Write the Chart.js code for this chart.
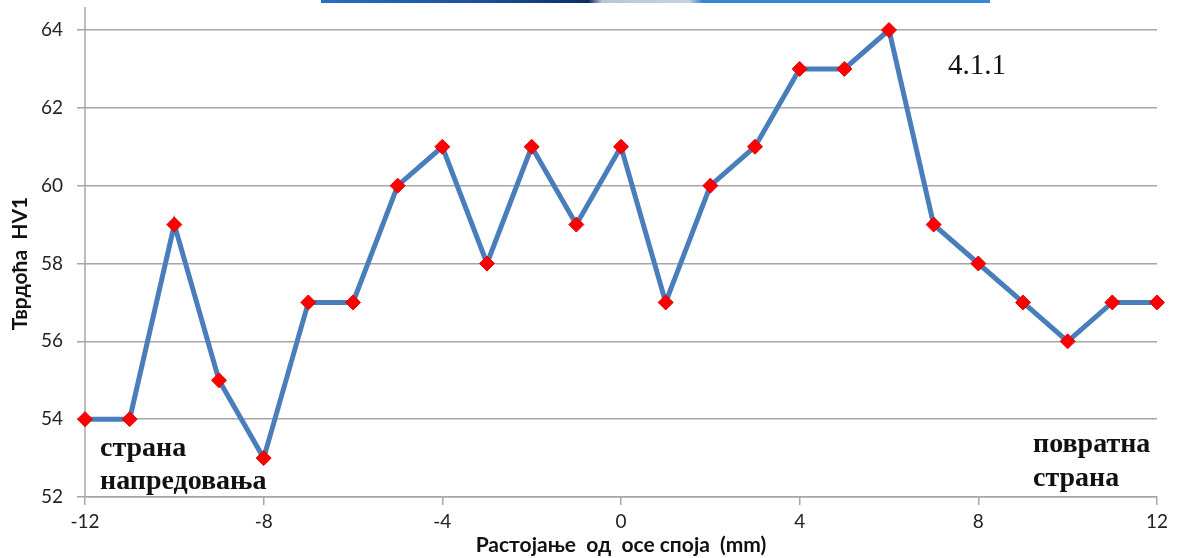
<!DOCTYPE html>
<html><head><meta charset="utf-8">
<script src="https://cdn.jsdelivr.net/npm/chart.js@4.4.1/dist/chart.umd.min.js"></script>
<style>
html,body{margin:0;padding:0;background:#fff;}
#wrap{position:relative;width:1179px;height:558px;}
#bar{position:absolute;left:321px;top:0;width:669px;height:3px;background:linear-gradient(90deg,#2a6fc0 0%,#1a4f9a 25%,#0d2d66 40%,#b8c6d6 42%,#c8d2de 55%,#3a86d6 57%,#3a86d6 100%);}
</style></head><body>
<div id="wrap"><canvas id="c" width="1179" height="558"></canvas><div id="bar"></div></div>
<script>
const xValues = [-12,-11,-10,-9,-8,-7,-6,-5,-4,-3,-2,-1,0,1,2,3,4,5,6,7,8,9,10,11,12];
const hardness = [54,54,59,55,53,57,57,60,61,58,61,59,61,57,60,61,63,63,64,59,58,57,56,57,57];
const yTicks = [52,54,56,58,60,62,64];
const xTicks = [-12,-8,-4,0,4,8,12];
const xTitle = 'Растојање  од  осе споја  (mm)';
const yTitle = 'Тврдоћа  HV1';
const notes = [
  {text:'страна', x:100, y:449, font:'bold 28px "Liberation Serif"'},
  {text:'напредовања', x:100, y:482, font:'bold 28px "Liberation Serif"'},
  {text:'повратна', x:1033, y:445, font:'bold 28px "Liberation Serif"'},
  {text:'страна', x:1033, y:479, font:'bold 28px "Liberation Serif"'},
  {text:'4.1.1', x:948, y:66, font:'29px "Liberation Serif"'}
];

const notePlugin = {
  id:'notes',
  afterDraw(chart){
    const ctx = chart.ctx;
    ctx.save();
    ctx.fillStyle = '#111';
    ctx.textBaseline = 'middle';
    ctx.textAlign = 'left';
    notes.forEach(n=>{ctx.font=n.font; ctx.fillText(n.text,n.x,n.y);});
    ctx.restore();
  }
};
const axisLinePlugin = {
  id:'axisLine',
  beforeDatasetsDraw(chart){
    const ctx = chart.ctx, a = chart.chartArea;
    ctx.save();
    ctx.strokeStyle = '#a6a6a6'; ctx.lineWidth = 1.5;
    ctx.beginPath(); ctx.moveTo(a.left, 7); ctx.lineTo(a.left, a.bottom); ctx.stroke();
    ctx.restore();
  }
};

new Chart(document.getElementById('c'), {
  type:'line',
  data:{ datasets:[{
    data: xValues.map((x,i)=>({x:x,y:hardness[i]})),
    borderColor:'#4a7ebb', borderWidth:5, tension:0, clip:false,
    pointStyle:'rectRot', pointRadius:7.5, pointHoverRadius:7.5,
    pointBackgroundColor:'#ff0000', pointBorderColor:'#e00000', pointBorderWidth:1
  }]},
  options:{
    responsive:false, animation:false, devicePixelRatio:1,
    layout:{padding:{left:0,right:22,top:30,bottom:0}},
    plugins:{legend:{display:false}, tooltip:{enabled:false}},
    scales:{
      x:{
        type:'linear', min:-12, max:12,
        afterBuildTicks(s){ s.ticks = xTicks.map(v=>({value:v})); },
        afterFit(s){ s.height = 61; },
        grid:{display:true, drawOnChartArea:false, drawTicks:true, tickLength:8, color:'#a6a6a6', lineWidth:1.5},
        border:{display:true, color:'#a6a6a6', width:1.5},
        ticks:{color:'#222', font:{family:'Lato', size:19}, padding:5, maxRotation:0},
        title:{display:true, text:xTitle, color:'#111', font:{family:'Lato', size:21, weight:'bold'}, padding:{top:0,bottom:0}}
      },
      y:{
        type:'linear', min:52, max:64,
        afterBuildTicks(s){ s.ticks = yTicks.map(v=>({value:v})); },
        afterFit(s){ s.width = 85; },
        grid:{display:true, drawTicks:true, tickLength:8, color:'#a6a6a6', lineWidth:1.5},
        border:{display:false},
        ticks:{color:'#222', font:{family:'Lato', size:19}, padding:14},
        title:{display:true, text:yTitle, color:'#111', font:{family:'Lato', size:21, weight:'bold'}, padding:{top:8,bottom:0}}
      }
    }
  },
  plugins:[axisLinePlugin, notePlugin]
});
</script>
</body></html>
